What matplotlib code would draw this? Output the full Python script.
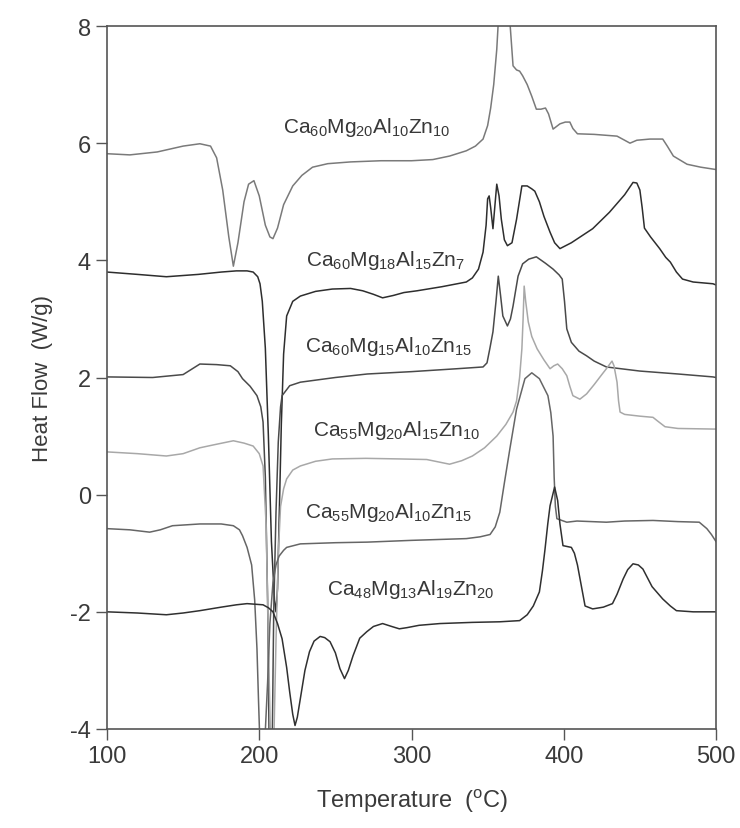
import matplotlib
matplotlib.use("Agg")
import matplotlib.pyplot as plt

plt.rcParams['font.family'] = ['Liberation Sans', 'DejaVu Sans']
plt.rcParams['mathtext.default'] = 'regular'
plt.rcParams['axes.unicode_minus'] = False

# Series 1: Ca60Mg20Al10Zn10
t1 = [100, 115, 133, 150, 161, 168, 172, 176, 180, 183, 186, 190, 193, 196.5, 200, 204, 207, 209, 212, 216,
      222, 228, 235, 245, 260, 280, 300, 314, 325, 336, 342, 347, 350, 352, 354, 356, 357.5, 360, 364, 366.7,
      369, 371, 373, 376, 379, 382, 385, 388, 390, 393, 395, 397.5, 401, 404, 406, 409, 420, 435, 440, 443.5,
      448, 456.6, 465, 468, 472, 481, 490, 500]
h1 = [5.82, 5.80, 5.85, 5.95, 5.99, 5.95, 5.75, 5.2, 4.4, 3.9, 4.3, 5.0, 5.3, 5.36, 5.1, 4.6, 4.4, 4.37, 4.55, 4.95,
      5.27, 5.45, 5.59, 5.65, 5.68, 5.70, 5.70, 5.72, 5.78, 5.87, 5.95, 6.07, 6.3, 6.6, 7.0, 7.6, 8.3, 8.6, 8.3, 7.32,
      7.25, 7.23, 7.15, 7.0, 6.8, 6.58, 6.58, 6.6, 6.5, 6.24, 6.28, 6.33, 6.36, 6.36, 6.25, 6.16, 6.15, 6.12, 6.05, 6.0,
      6.05, 6.07, 6.07, 5.95, 5.78, 5.64, 5.59, 5.55]

# Series 2: Ca60Mg18Al15Zn7
t2 = [100, 120, 139, 160, 175, 185, 192, 196, 199, 200.5, 202, 204, 206, 208, 210, 211, 212, 213, 214.5, 216,
      218, 222, 227, 237, 248, 260, 268, 275, 281, 288, 295, 303.6, 320, 336, 340, 344, 347, 349, 350, 351,
      352, 353.5, 355, 356, 357.5, 359, 361, 363, 366, 369, 372.5, 376, 379, 381, 384, 387, 391, 394, 397.5, 405,
      412, 419, 430, 440, 445.5, 448, 450, 451.5, 453, 457, 463, 467, 470, 474, 478, 485, 498, 500]
h2 = [3.80, 3.76, 3.72, 3.76, 3.80, 3.82, 3.82, 3.80, 3.72, 3.6, 3.3, 2.5, 1.0, -0.8, -1.8, -2.0, -1.6, -0.5, 1.2, 2.4,
      3.05, 3.3, 3.39, 3.47, 3.51, 3.52, 3.48, 3.42, 3.36, 3.40, 3.45, 3.48, 3.55, 3.63, 3.70, 3.85, 4.14, 4.6, 5.05, 5.1,
      4.9, 4.54, 5.0, 5.3, 5.1, 4.7, 4.35, 4.25, 4.3, 4.7, 5.27, 5.27, 5.22, 5.18, 5.0, 4.75, 4.48, 4.3, 4.2, 4.3,
      4.42, 4.54, 4.82, 5.12, 5.33, 5.32, 5.2, 4.9, 4.55, 4.4, 4.2, 4.05, 3.97, 3.8, 3.68, 3.63, 3.6, 3.58]

# Series 3: Ca60Mg15Al10Zn15
t3 = [100, 130, 150, 161, 172, 181, 186, 189, 194, 198.5, 201, 202.5, 204, 205.5, 206.5, 208.5, 209.5, 211, 212.5, 214,
      215, 220, 227, 250, 271, 300, 330, 347, 349.6, 351.5, 353.5, 355.5, 357, 358.5, 360, 363, 365, 366.7, 368.5, 370,
      373, 377, 382, 388, 393, 397, 399, 400.5, 402, 405, 410, 415, 420, 428, 450, 475, 498, 500]
h3 = [2.01, 2.0, 2.05, 2.23, 2.22, 2.2, 2.1, 1.98, 1.85, 1.69, 1.5, 1.24, 0.3, -1.8, -4.3, -4.3, -2.0, -0.3, 0.9, 1.5,
      1.69, 1.86, 1.92, 2.0, 2.06, 2.1, 2.15, 2.18, 2.25, 2.5, 2.78, 3.3, 3.73, 3.4, 3.05, 2.88, 3.0, 3.22, 3.5, 3.73,
      3.94, 4.02, 4.06, 3.95, 3.85, 3.75, 3.68, 3.3, 2.83, 2.6, 2.45, 2.37, 2.28, 2.18, 2.11, 2.06, 2.01, 2.0]

# Series 4: Ca55Mg20Al15Zn10
t4 = [100, 120, 139, 150, 161, 170, 183, 190, 196, 200, 202.5, 204.5, 206, 207.5, 209.5, 211, 212.5, 214, 216, 218,
      222, 227, 237, 248, 270, 292, 310, 325, 333, 340, 348, 356, 362, 366.7, 369, 371, 372.5, 373.3, 374, 375,
      376.7, 379, 382.5, 387, 391, 393.5, 396, 399, 402, 404, 406, 410.6, 415, 420, 425, 428, 431.7, 433, 435, 436,
      437, 440, 450, 458.6, 462, 466.5, 475, 498, 500]
h4 = [0.73, 0.70, 0.66, 0.7, 0.8, 0.85, 0.92, 0.88, 0.83, 0.7, 0.49, -0.5, -2.5, -4.3, -4.3, -2.5, -1.0, -0.2, 0.1, 0.27,
      0.42, 0.49, 0.57, 0.61, 0.62, 0.61, 0.6, 0.52, 0.58, 0.66, 0.8, 1.0, 1.2, 1.41, 1.6, 2.0, 2.49, 3.0, 3.56, 3.3,
      2.95, 2.7, 2.49, 2.3, 2.15, 2.2, 2.23, 2.15, 2.03, 1.85, 1.69, 1.63, 1.72, 1.88, 2.05, 2.15, 2.28, 2.2, 1.92, 1.6,
      1.41, 1.37, 1.34, 1.32, 1.25, 1.16, 1.13, 1.12, 1.12]

# Series 5: Ca55Mg20Al10Zn15
t5 = [100, 115, 128, 135, 143, 161, 175, 183, 187, 189, 192, 195, 197, 198.5, 199.5, 200.5, 203.5, 205.5, 207, 209,
      211, 213, 216, 218, 227, 250, 271, 300, 336, 345, 351.6, 355, 358, 361, 364.6, 369, 374.5, 379, 384, 389.6,
      391.5, 393, 393.7, 394.5, 395.5, 402, 408.7, 428, 440, 458.6, 475, 489, 494, 497, 500]
h5 = [-0.58, -0.6, -0.64, -0.6, -0.53, -0.5, -0.5, -0.53, -0.6, -0.7, -0.9, -1.2, -1.8, -2.63, -3.5, -4.3, -4.3, -3.2, -2.2, -1.5,
      -1.2, -1.05, -0.95, -0.9, -0.84, -0.82, -0.81, -0.78, -0.75, -0.72, -0.68, -0.55, -0.3, 0.2, 0.78, 1.46, 1.98, 2.08, 1.98, 1.69,
      1.4, 1.0, 0.3, -0.2, -0.41, -0.47, -0.45, -0.47, -0.45, -0.44, -0.46, -0.47, -0.58, -0.68, -0.8]

# Series 6: Ca48Mg13Al19Zn20
t6 = [100, 120, 139, 150, 161, 175, 185, 192, 202.5, 206, 209, 212, 215, 218, 220, 222, 223.5, 225, 227, 230,
      233, 236, 240, 243, 246.5, 250, 253, 256, 258.5, 261.6, 266, 270.6, 275, 281, 287, 292, 297, 305, 318.7, 340,
      358, 371, 376, 380, 384, 386, 387.7, 389.5, 391, 394, 396, 397.5, 399.5, 405, 407, 409, 411.5, 414, 419, 426,
      432, 435, 439, 442, 445.5, 449, 452, 455, 458, 465, 470, 474, 485, 500]
h6 = [-2.0, -2.02, -2.05, -2.02, -1.98, -1.92, -1.88, -1.86, -1.88, -1.93, -2.0, -2.2, -2.46, -2.95, -3.37, -3.75, -3.94, -3.8, -3.48, -3.0,
      -2.68, -2.5, -2.42, -2.44, -2.51, -2.7, -2.97, -3.14, -3.0, -2.75, -2.45, -2.34, -2.25, -2.2, -2.25, -2.29, -2.27, -2.23, -2.2, -2.18,
      -2.17, -2.15, -2.05, -1.9, -1.66, -1.3, -0.93, -0.5, -0.19, 0.13, -0.1, -0.5, -0.87, -0.9, -1.0, -1.2, -1.55, -1.9, -1.95, -1.92,
      -1.86, -1.7, -1.44, -1.28, -1.18, -1.2, -1.27, -1.42, -1.57, -1.78, -1.9, -1.98, -2.0, -2.0]

labels = [r'Ca$_{60}$Mg$_{20}$Al$_{10}$Zn$_{10}$',
          r'Ca$_{60}$Mg$_{18}$Al$_{15}$Zn$_{7}$',
          r'Ca$_{60}$Mg$_{15}$Al$_{10}$Zn$_{15}$',
          r'Ca$_{55}$Mg$_{20}$Al$_{15}$Zn$_{10}$',
          r'Ca$_{55}$Mg$_{20}$Al$_{10}$Zn$_{15}$',
          r'Ca$_{48}$Mg$_{13}$Al$_{19}$Zn$_{20}$']
label_x = [215.6, 231, 230, 235, 230, 244.5]
label_y = [6.28, 4.02, 2.54, 1.12, -0.29, -1.61]

xticks = [100, 200, 300, 400, 500]
yticks = [-4, -2, 0, 2, 4, 6, 8]

series = [(t1, h1, '#7a7a7a'), (t2, h2, '#2e2e2e'), (t3, h3, '#4a4a4a'),
          (t4, h4, '#a8a8a8'), (t5, h5, '#666666'), (t6, h6, '#303030')]

fig = plt.figure(figsize=(7.4, 8.29), dpi=100)
ax = fig.add_axes([107/740, 1 - 730/829, (716 - 107)/740, (730 - 27)/829])

for t, h, c in series:
    ax.plot(t, h, color=c, lw=1.1)

for s, x, y in zip(labels, label_x, label_y):
    ax.text(x, y, s, fontsize=15, color='#383838', ha='left', va='center')

ax.set_xlim(100, 500)
ax.set_ylim(-4, 8)
ax.set_xticks(xticks)
ax.set_yticks(yticks)
ax.tick_params(direction='out', length=8, width=1, colors='#555555', labelcolor='#3a3a3a', labelsize=17)
for sp in ax.spines.values():
    sp.set_color('#555555')
    sp.set_linewidth(1.2)

ax.set_xlabel(r'Temperature  ($^{o}$C)', fontsize=17, color='#3a3a3a', labelpad=14)
ax.set_ylabel('Heat Flow  (W/g)', fontsize=16, color='#3a3a3a', labelpad=12)

fig.savefig('out.png', dpi=100, facecolor='white')
